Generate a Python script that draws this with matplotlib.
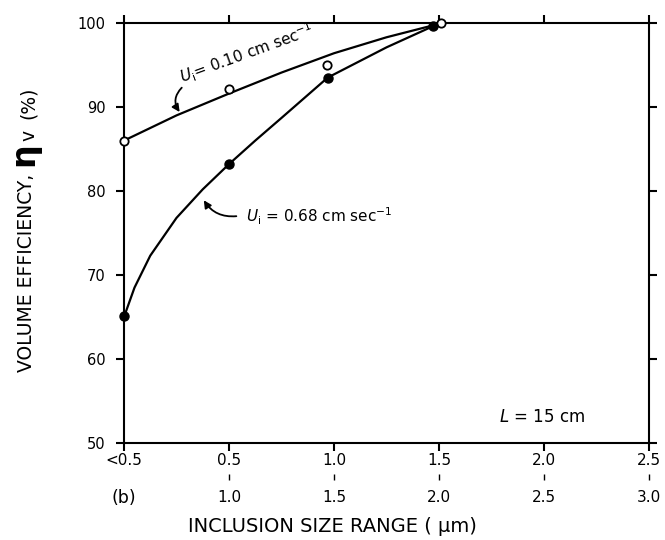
import matplotlib
matplotlib.use("Agg")
import matplotlib.pyplot as plt

plt.rcParams['font.family'] = ['DejaVu Sans']
plt.rcParams['mathtext.fontset'] = 'dejavusans'

# x positions are category slots along the size-range axis
size_low = ['<0.5', '0.5', '1.0', '1.5', '2.0', '2.5']
size_high = ['1.0', '1.5', '2.0', '2.5', '3.0']
size_pos = [0, 1, 2, 3, 4, 5]

# measured points
slow_x = [0, 1, 1.93, 3.02]
slow_y = [86.0, 92.2, 95.0, 100.0]
fast_x = [0, 1, 1.94, 2.94]
fast_y = [65.1, 83.2, 93.5, 99.6]

# hand-drawn trend curves
slow_curve_x = [0, 0.5, 1.0, 1.5, 2.0, 2.5, 3.0]
slow_curve_y = [86.0, 89.0, 91.6, 94.1, 96.4, 98.3, 99.9]
fast_curve_x = [0, 0.1, 0.25, 0.5, 0.75, 1.0, 1.25, 1.5, 1.94, 2.5, 2.94]
fast_curve_y = [65.0, 68.5, 72.3, 76.8, 80.2, 83.2, 86.0, 88.7, 93.5, 97.1, 99.6]

fig = plt.figure(figsize=(6.65, 5.4), dpi=100)
ax = fig.add_axes([124 / 665, 1 - 443 / 540, 525 / 665, 420 / 540])

ax.plot(slow_curve_x, slow_curve_y, color='k', lw=1.6, zorder=2)
ax.plot(fast_curve_x, fast_curve_y, color='k', lw=1.6, zorder=2)
ax.plot(slow_x, slow_y, 'o', ms=6, mfc='white', mec='k', mew=1.3, zorder=3, clip_on=False)
ax.plot(fast_x, fast_y, 'o', ms=6.5, color='k', zorder=3, clip_on=False)

ax.set_xlim(0, 5)
ax.set_ylim(50, 100)
ax.set_yticks([50, 60, 70, 80, 90, 100])
ax.set_xticks(size_pos)
ax.set_xticklabels(size_low)

for s in ax.spines.values():
    s.set_linewidth(1.5)
ax.tick_params(axis='both', direction='out', length=5.5, width=1.5, labelsize=11,
               top=True, right=True, labeltop=False, labelright=False)
ax.tick_params(axis='x', pad=2)
ax.tick_params(axis='y', pad=8, labelsize=10.5)

# second row of size-range labels
sec = ax.secondary_xaxis(-0.081)
sec.spines['bottom'].set_visible(False)
sec.set_xticks(size_pos[1:])
sec.set_xticklabels(size_high)
sec.tick_params(direction='inout', length=5, width=1, labelsize=11, pad=7)
ax.text(0, -0.131, '(b)', transform=ax.get_xaxis_transform(), ha='center', va='center', fontsize=12.5)

fig.text(332 / 665, 1 - 527 / 540, 'INCLUSION SIZE RANGE ( \u03bcm)', ha='center', va='center', fontsize=14)

# y label built from pieces so the eta can be larger
fig.text(27 / 665, 1 - 273 / 540, 'VOLUME EFFICIENCY,', rotation=90, ha='center', va='center', fontsize=13.5)
fig.text(24 / 665, 1 - 154 / 540, '\u03b7', rotation=90, ha='center', va='center', fontsize=24, fontweight='bold')
fig.text(29 / 665, 1 - 135 / 540, 'v', rotation=90, ha='center', va='center', fontsize=13.5)
fig.text(28 / 665, 1 - 103 / 540, '(%)', rotation=90, ha='center', va='center', fontsize=13.5)

ax.text(1.17, 96.4, r'$U_{\rm i}$= 0.10 cm sec$^{-1}$', rotation=20, ha='center', va='center',
        fontsize=11, rotation_mode='anchor')
ax.text(1.16, 77.0, r'$U_{\rm i}$ = 0.68 cm sec$^{-1}$', ha='left', va='center', fontsize=11)
ax.text(3.98, 53.1, r'$L$ = 15 cm', ha='center', va='center', fontsize=12)

arrow = dict(arrowstyle='-|>', color='k', lw=1.3, mutation_scale=11, shrinkA=0, shrinkB=0)
ax.annotate('', xy=(0.53, 89.4), xytext=(0.55, 92.3),
            arrowprops=dict(arrow, connectionstyle='arc3,rad=0.4'))
ax.annotate('', xy=(0.76, 78.9), xytext=(1.07, 77.0),
            arrowprops=dict(arrow, connectionstyle='arc3,rad=-0.3'))

fig.savefig('out.png', dpi=100)
